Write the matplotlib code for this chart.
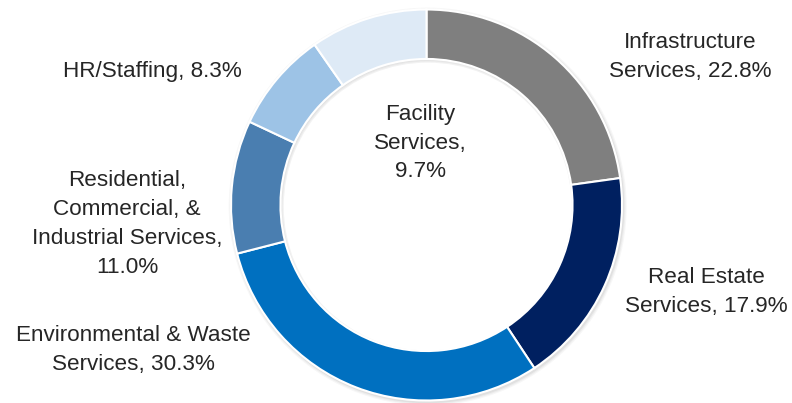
import matplotlib
matplotlib.use("Agg")
import matplotlib.pyplot as plt
from matplotlib.patches import Wedge
import numpy as np

categories = ["Infrastructure\nServices, 22.8%", "Real Estate\nServices, 17.9%",
              "Environmental & Waste\nServices, 30.3%",
              "Residential,\nCommercial, &\nIndustrial Services,\n11.0%",
              "HR/Staffing, 8.3%", "Facility\nServices,\n9.7%"]
values = [22.8, 17.9, 30.3, 11.0, 8.3, 9.7]
colors = ["#7F7F7F", "#002060", "#0070C0", "#4A7EB0", "#9DC3E6", "#DEEAF6"]

W, H = 792, 403
cx, cy, R = 426.5, 205.0, 195.5
fig = plt.figure(figsize=(W / 100, H / 100), dpi=100)
ax = fig.add_axes([0, 0, 1, 1])

# subtle shadow
for i, a in enumerate([0.05, 0.04, 0.03]):
    sh = Wedge((0.006, -0.008), 1.0 + 0.006 * (i + 1), 0, 360, width=0.27,
               facecolor="#000000", alpha=a, edgecolor="none")
    ax.add_patch(sh)

ax.pie(values, colors=colors, startangle=90, counterclock=False, radius=1.0,
       wedgeprops=dict(width=0.253, edgecolor="white", linewidth=1.5))

ax.set_aspect("auto")
ax.set_xlim(-cx / R, (W - cx) / R)
ax.set_ylim(-(H - cy) / R, cy / R)
ax.axis("off")

def px(x, y):
    return ((x - cx) / R, (cy - y) / R)

label_pos = [(690, 57), (706, 292), (133, 350), (127, 224), (152, 72), (420, 143)]
for lab, (x, y) in zip(categories, label_pos):
    ax.text(*px(x, y), lab, ha="center", va="center", fontsize=16.2,
            family="Liberation Sans", color="#262626", linespacing=1.48)

fig.savefig("out.png", dpi=100)
